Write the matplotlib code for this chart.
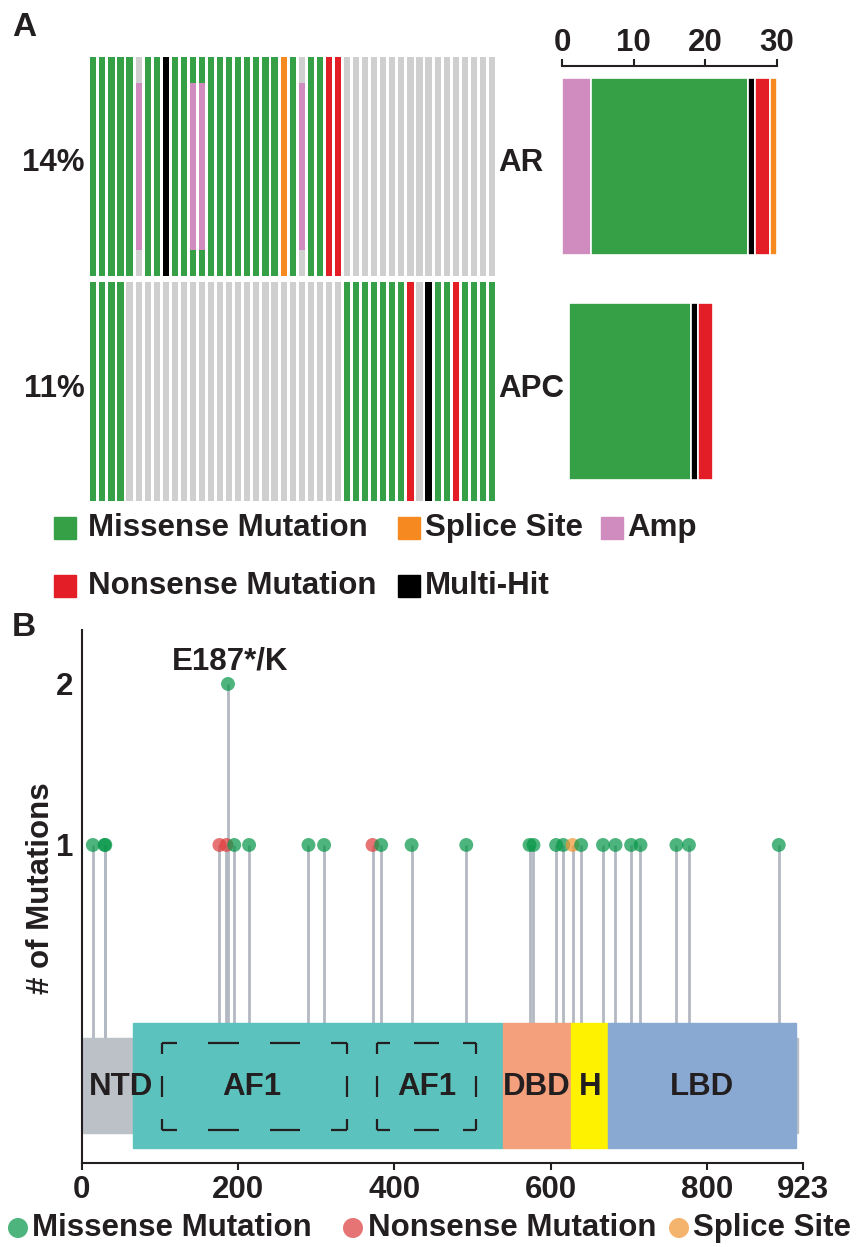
# Oncoprint (AR / APC) plus AR lollipop plot, rebuilt with matplotlib
import numpy as np
import matplotlib
matplotlib.use("Agg")
import matplotlib.pyplot as plt
from matplotlib.patches import Rectangle, Circle

plt.rcParams['font.family'] = ['Liberation Sans', 'DejaVu Sans']
plt.rcParams['font.weight'] = 'bold'
plt.rcParams['font.size'] = 22.5
plt.rcParams['text.color'] = '#231f20'
plt.rcParams['axes.edgecolor'] = '#231f20'
plt.rcParams['xtick.color'] = '#231f20'
plt.rcParams['ytick.color'] = '#231f20'

# ---------------- data: panel A ----------------
genes = ["AR", "APC"]
gene_freq = ["14%", "11%"]
# one code per sample: M missense, N nonsense, S splice, X multi-hit, - none
ar_mutation = list("MMMMM-MMXMMMMMMMMMMMMSM-MMNN-----------------")
ar_amp = list("-----A-----AA----------A---------------------")
apc_mutation = list("MMMM------------------------MMMMMMMN-XMMNMMMM")
apc_amp = list("---------------------------------------------")

alt_codes = ["A", "M", "X", "N", "S"]
alt_names = {"M": "Missense Mutation", "S": "Splice Site", "A": "Amp",
             "N": "Nonsense Mutation", "X": "Multi-Hit"}

# ---------------- data: panel B ----------------
mut_pos = [14, 29, 30, 176, 185, 187, 195, 214, 290, 310, 372, 383, 422, 492,
           573, 578, 607, 616, 628, 639, 667, 683, 703, 715, 761, 777, 892]
mut_count = [1, 1, 1, 1, 1, 2, 1, 1, 1, 1, 1, 1, 1, 1,
             1, 1, 1, 1, 1, 1, 1, 1, 1, 1, 1, 1, 1]
mut_type = ["Missense", "Missense", "Missense", "Nonsense", "Nonsense", "Missense",
            "Missense", "Missense", "Missense", "Missense", "Nonsense", "Missense",
            "Missense", "Missense", "Missense", "Missense", "Missense", "Missense",
            "Splice", "Missense", "Missense", "Missense", "Missense", "Missense",
            "Missense", "Missense", "Missense"]
hotspot_label = "E187*/K"
protein_length = 917
domain_start = [65, 539, 626, 673]
domain_end = [539, 626, 673, 914]
af1_start = [102, 378]
af1_end = [339, 504]

# ---------------- colours ----------------
onco_colors = {"M": "#36a047", "S": "#f6891f", "A": "#d08bbf",
               "N": "#e31e26", "X": "#000000", "-": "#cfcfcf"}
lolli_colors = {"Missense": "#079749", "Nonsense": "#df3e3e", "Splice": "#f19736"}
domain_colors = ["#5cc2bd", "#f4a07c", "#fff200", "#89a9d2"]

fig = plt.figure(figsize=(8.57, 12.47), dpi=100)
W, H = 857, 1247


def px_axes(left, top, right, bottom):
    return fig.add_axes([left / W, 1 - bottom / H, (right - left) / W, (bottom - top) / H])


bg = px_axes(0, 0, W, H)
bg.set_xlim(0, W)
bg.set_ylim(H, 0)
bg.axis('off')

# ---------------- panel A: oncoprint ----------------
ax1 = px_axes(88.8, 54, 496.5, 504)
ax1.set_xlim(-0.5, 44.5)
ax1.set_ylim(1.5, -0.5)
ax1.axis('off')

rows = [(ar_mutation, ar_amp), (apc_mutation, apc_amp)]
for r, (muts, amps) in enumerate(rows):
    x = np.arange(len(muts))
    ax1.bar(x, 0.97, bottom=r - 0.485, width=0.68,
            color=[onco_colors[m] for m in muts], linewidth=0)
    amp_idx = [i for i, a in enumerate(amps) if a == "A"]
    if amp_idx:
        ax1.bar(amp_idx, 0.74, bottom=r - 0.37, width=0.68,
                color=onco_colors["A"], linewidth=0)

label_y = [163, 389]
for g, f, y in zip(genes, gene_freq, label_y):
    bg.text(85, y, f, ha='right', va='center')
    bg.text(498, y, g, ha='left', va='center')

# summary bars
ax2 = px_axes(562, 66, 777, 504)
ax2.set_xlim(0, 30)
ax2.set_ylim(1.5, -0.5 + 12 / 225)
bar_offset = [0, 1]
for r, (muts, amps) in enumerate(rows):
    counts = {c: muts.count(c) for c in alt_codes}
    counts["A"] = amps.count("A")
    left = bar_offset[r]
    for c in alt_codes:
        if counts[c] > 0:
            ax2.barh(r, counts[c], left=left, height=0.79, color=onco_colors[c],
                     edgecolor='white', linewidth=1.2)
            left += counts[c]
ax2.xaxis.tick_top()
ax2.set_xticks([0, 10, 20, 30])
ax2.set_yticks([])
ax2.tick_params(axis='x', direction='out', length=5, width=1.5, pad=1)
for s in ['left', 'right', 'bottom']:
    ax2.spines[s].set_visible(False)
ax2.spines['top'].set_linewidth(1.5)
ax2.patch.set_visible(False)

# legend A
legend_a = [("M", 54, 88, 528), ("S", 398, 425, 528), ("A", 601, 627, 528),
            ("N", 54, 88, 586), ("X", 398, 425, 586)]
for code, sx, tx, y in legend_a:
    bg.add_patch(Rectangle((sx, y - 11), 22, 22, color=onco_colors[code]))
    bg.text(tx, y, alt_names[code], ha='left', va='center')

bg.text(12, 28, "A", ha='left', va='center', fontsize=24)
bg.text(12, 627, "B", ha='left', va='center', fontsize=24)

# ---------------- panel B: lollipop ----------------
ax3 = px_axes(81.9, 630, 803, 1163)
ax3.set_xlim(0, 923)
ax3.set_ylim(-0.975, 2.335)
ax3.patch.set_visible(False)

ax3.vlines(mut_pos, -0.5, mut_count, color='#b3b9c2', lw=2, zorder=1)
ax3.add_patch(Rectangle((1, -0.79), protein_length - 1, 0.59, color='#bcc1c8', zorder=2))
for s, e, c in zip(domain_start, domain_end, domain_colors):
    ax3.add_patch(Rectangle((s, -0.88), e - s, 0.774, color=c, zorder=2))

ax3.scatter(mut_pos, mut_count, s=100, c=[lolli_colors[t] for t in mut_type],
            alpha=0.72, linewidths=0, zorder=3)


def dashed_side(x0, y0, x1, y1, n):
    u = 1 / (2 * (n + 1))
    segs = [(0, u / 2)]
    for k in range(n):
        a = u / 2 + u + 2 * u * k
        segs.append((a, a + u))
    segs.append((1 - u / 2, 1))
    for a, b in segs:
        ax3.plot([x0 + (x1 - x0) * a, x0 + (x1 - x0) * b],
                 [y0 + (y1 - y0) * a, y0 + (y1 - y0) * b],
                 color='#231f20', lw=1.6, solid_capstyle='butt', zorder=4)


box_bottom, box_top = -0.77, -0.23
for s, e, n in zip(af1_start, af1_end, [2, 1]):
    dashed_side(s, box_top, e, box_top, n)
    dashed_side(s, box_bottom, e, box_bottom, n)
    dashed_side(s, box_bottom, s, box_top, 1)
    dashed_side(e, box_bottom, e, box_top, 1)

domain_labels = ["NTD", "AF1", "AF1", "DBD", "H", "LBD"]
domain_label_x = [50, 217, 442, 582, 650, 794]
for t, x in zip(domain_labels, domain_label_x):
    ax3.text(x, -0.5, t, ha='center', va='center', zorder=5)

ax3.text(190, 2.14, hotspot_label, ha='center', va='center')

ax3.set_xticks([0, 200, 400, 600, 800, 923])
ax3.set_yticks([1, 2])
ax3.tick_params(axis='x', length=5, width=1.5, pad=4)
ax3.tick_params(axis='y', length=0, pad=6)
for s in ['top', 'right']:
    ax3.spines[s].set_visible(False)
for s in ['left', 'bottom']:
    ax3.spines[s].set_linewidth(1.5)

bg.text(41, 888, "# of Mutations", rotation=90, ha='center', va='center')

# legend B
legend_b = [("Missense", "Missense Mutation", 18, 32),
            ("Nonsense", "Nonsense Mutation", 353, 368),
            ("Splice", "Splice Site", 679, 693)]
for t, name, cx, tx in legend_b:
    bg.add_patch(Circle((cx, 1228), 10, color=lolli_colors[t], alpha=0.72, lw=0))
    bg.text(tx, 1228, name, ha='left', va='center')

fig.savefig('out.png', dpi=100)
